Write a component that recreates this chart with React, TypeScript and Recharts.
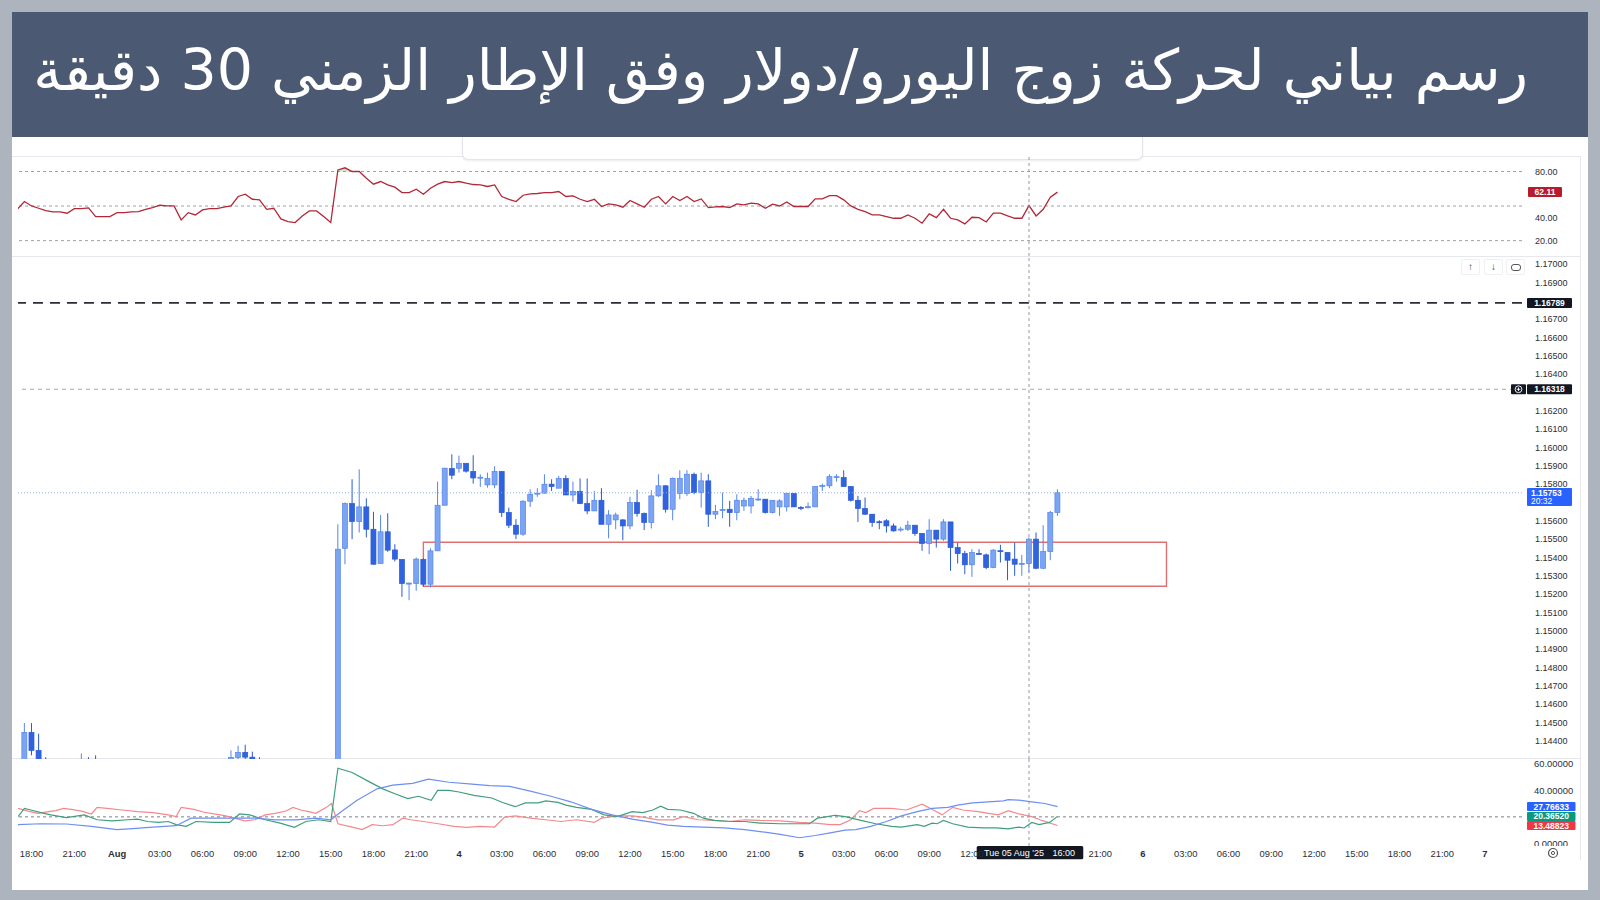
import React from 'react';
import { ComposedChart, Line, Bar, Area, XAxis, YAxis, ReferenceLine, ReferenceArea } from 'recharts';

const TITLE = 'رسم بياني لحركة زوج اليورو/دولار وفق الإطار الزمني 30 دقيقة';

// 30-minute candles, index 0 = Thu 31 Jul 17:30 (weekend bars skipped)
const openPrices = [
  1.1424, 1.14445, 1.14347, 1.1426, 1.1424, 1.1419, 1.1421, 1.1418, 1.1422, 1.1427,
  1.1425, 1.141, 1.1409, 1.141, 1.1417, 1.1417, 1.1419, 1.142, 1.1423, 1.1425,
  1.1428, 1.1427, 1.1427, 1.1408, 1.1417, 1.1413, 1.1419, 1.1421, 1.1421, 1.1423,
  1.14309, 1.14336, 1.1431, 1.1428, 1.1427, 1.1418, 1.1419, 1.1406, 1.1402, 1.14,
  1.1408, 1.1414, 1.1414, 1.1407, 1.1398, 1.1545, 1.15694, 1.15596, 1.15676, 1.15554,
  1.15367, 1.1554, 1.15441, 1.15389, 1.15258, 1.15258, 1.15389, 1.15254, 1.15436, 1.15685,
  1.15885, 1.15887, 1.15914, 1.15869, 1.15836, 1.15796, 1.15796, 1.15869, 1.15645, 1.15576,
  1.15527, 1.15707, 1.15749, 1.15751, 1.158, 1.15778, 1.15831, 1.15741, 1.1576, 1.15694,
  1.15654, 1.15712, 1.15581, 1.15605, 1.15605, 1.15572, 1.157, 1.1564, 1.15591, 1.15736,
  1.15791, 1.15663, 1.15749, 1.15749, 1.15854, 1.15754, 1.15818, 1.15636, 1.15658, 1.15663,
  1.15645, 1.15681, 1.15681, 1.15717, 1.15718, 1.15645, 1.15676, 1.15676, 1.15749, 1.15673,
  1.15675, 1.15676, 1.1579, 1.15791, 1.15839, 1.15836, 1.15787, 1.15712, 1.15667, 1.15636,
  1.15595, 1.156, 1.15572, 1.15553, 1.15554, 1.15576, 1.15531, 1.15476, 1.15549, 1.155,
  1.15594, 1.15454, 1.15421, 1.1536, 1.15422, 1.15414, 1.15345, 1.15437, 1.15427, 1.15391,
  1.15366, 1.15367, 1.155, 1.15341, 1.15432, 1.15645,
];
const highPrices = [
  1.14496, 1.14496, 1.14438, 1.1431, 1.1428, 1.1425, 1.1427, 1.1426, 1.1433, 1.1431,
  1.1432, 1.1414, 1.1413, 1.142, 1.142, 1.1421, 1.1422, 1.1425, 1.1427, 1.1429,
  1.1429, 1.1429, 1.1428, 1.1419, 1.1418, 1.1421, 1.1422, 1.1423, 1.1426, 1.14347,
  1.14372, 1.14378, 1.1434, 1.1431, 1.1428, 1.1421, 1.142, 1.1408, 1.1405, 1.141,
  1.1416, 1.1417, 1.1415, 1.1409, 1.15581, 1.157, 1.15827, 1.15881, 1.15723, 1.15649,
  1.15632, 1.15641, 1.15472, 1.15389, 1.15263, 1.154, 1.15395, 1.1545, 1.15814, 1.1589,
  1.15963, 1.15956, 1.15914, 1.15958, 1.15854, 1.15863, 1.15898, 1.15869, 1.15672, 1.15609,
  1.15712, 1.15772, 1.15778, 1.15854, 1.15827, 1.15845, 1.15849, 1.15814, 1.15831, 1.15831,
  1.15763, 1.15778, 1.15658, 1.15645, 1.15609, 1.15731, 1.15769, 1.15645, 1.15767, 1.15854,
  1.15794, 1.15836, 1.15876, 1.15876, 1.15863, 1.15863, 1.15854, 1.15687, 1.15754, 1.15709,
  1.15745, 1.15727, 1.15736, 1.15772, 1.15718, 1.15712, 1.15718, 1.15749, 1.15749, 1.15681,
  1.157, 1.15787, 1.15803, 1.15854, 1.15854, 1.15876, 1.15787, 1.15736, 1.15727, 1.15636,
  1.15603, 1.15609, 1.15585, 1.15567, 1.156, 1.15576, 1.15531, 1.15609, 1.15549, 1.15609,
  1.15594, 1.15481, 1.15436, 1.15445, 1.15445, 1.15421, 1.15445, 1.15469, 1.15427, 1.15481,
  1.15414, 1.15509, 1.15536, 1.15576, 1.15654, 1.15772,
];
const lowPrices = [
  1.1421, 1.1432, 1.1423, 1.142, 1.1416, 1.1414, 1.1413, 1.1415, 1.1419, 1.142,
  1.1407, 1.1404, 1.1405, 1.1408, 1.1413, 1.1414, 1.1416, 1.1418, 1.142, 1.1422,
  1.1423, 1.1423, 1.1405, 1.1406, 1.141, 1.1411, 1.1416, 1.1417, 1.1419, 1.1421,
  1.1427, 1.1429, 1.1426, 1.1424, 1.1416, 1.1415, 1.1403, 1.1399, 1.1396, 1.1398,
  1.1405, 1.141, 1.1404, 1.1394, 1.1396, 1.15363, 1.155, 1.15536, 1.15509, 1.1536,
  1.15367, 1.15431, 1.15378, 1.15185, 1.15167, 1.15218, 1.15241, 1.15236, 1.15436, 1.15685,
  1.15827, 1.15863, 1.15863, 1.15803, 1.15785, 1.15781, 1.15778, 1.15621, 1.1556, 1.155,
  1.15518, 1.15676, 1.15731, 1.15749, 1.15763, 1.15778, 1.15741, 1.15705, 1.15691, 1.15636,
  1.15654, 1.15581, 1.15505, 1.15554, 1.15494, 1.15554, 1.15623, 1.15549, 1.15558, 1.15731,
  1.15645, 1.15603, 1.15718, 1.15736, 1.15745, 1.15672, 1.15567, 1.15609, 1.15614, 1.15567,
  1.15603, 1.15654, 1.1564, 1.15709, 1.1564, 1.1564, 1.15627, 1.15651, 1.15676, 1.15658,
  1.15667, 1.15676, 1.15763, 1.15778, 1.15814, 1.15787, 1.15705, 1.15594, 1.15632, 1.15567,
  1.15554, 1.15536, 1.15541, 1.15541, 1.15545, 1.15518, 1.15436, 1.15418, 1.15454, 1.15491,
  1.15327, 1.15367, 1.15309, 1.15294, 1.15414, 1.15336, 1.15341, 1.15372, 1.15276, 1.153,
  1.153, 1.15318, 1.15336, 1.15336, 1.15385, 1.15627,
];
const closePrices = [
  1.14445, 1.14347, 1.1426, 1.1424, 1.1419, 1.1421, 1.1418, 1.1422, 1.1427, 1.1425,
  1.141, 1.1409, 1.141, 1.1417, 1.1417, 1.1419, 1.142, 1.1423, 1.1425, 1.1428,
  1.1427, 1.1427, 1.1408, 1.1417, 1.1413, 1.1419, 1.1421, 1.1421, 1.1423, 1.14309,
  1.14336, 1.1431, 1.1428, 1.1427, 1.1418, 1.1419, 1.1406, 1.1402, 1.14, 1.1408,
  1.1414, 1.1414, 1.1407, 1.1398, 1.15445, 1.15694, 1.15596, 1.15676, 1.15554, 1.15363,
  1.1554, 1.1544, 1.15391, 1.15258, 1.1526, 1.15391, 1.15254, 1.15436, 1.15685, 1.15887,
  1.15849, 1.15914, 1.15871, 1.15834, 1.15838, 1.15831, 1.15869, 1.15645, 1.15576, 1.15527,
  1.15707, 1.15745, 1.15751, 1.158, 1.15787, 1.15831, 1.15741, 1.1576, 1.15694, 1.15654,
  1.15712, 1.15581, 1.15632, 1.15632, 1.15572, 1.157, 1.1564, 1.15591, 1.15736, 1.15791,
  1.15663, 1.15832, 1.15832, 1.15854, 1.15754, 1.15818, 1.15636, 1.15651, 1.15662, 1.15645,
  1.15712, 1.15712, 1.15723, 1.15719, 1.15645, 1.15712, 1.15709, 1.15749, 1.15676, 1.15671,
  1.15677, 1.15787, 1.15792, 1.15841, 1.15841, 1.15787, 1.15712, 1.15667, 1.15636, 1.15591,
  1.15593, 1.15572, 1.15545, 1.15555, 1.15576, 1.15531, 1.15476, 1.15549, 1.155, 1.15594,
  1.15454, 1.15421, 1.1536, 1.15427, 1.1542, 1.15345, 1.1544, 1.15435, 1.15385, 1.15363,
  1.15368, 1.155, 1.15341, 1.15432, 1.15645, 1.15753,
];

// RSI, first value sits at index -1 (left edge of the pane)
const RSI_FIRST_INDEX = -1;
const rsiValues = [
  47.2, 53.9, 50.1, 48.1, 46.1, 44.9, 44.9, 43.8, 47.8, 47.8, 48.4,
  40.9, 40.9, 40.9, 44.3, 44.3, 44.9, 45.2, 47.2, 48.7, 50.7,
  50.1, 50.1, 38.0, 44.3, 42.3, 46.7, 47.8, 47.8, 49.0, 50.1,
  58.3, 60.3, 55.9, 55.4, 47.2, 48.1, 38.8, 36.5, 35.7, 41.4,
  45.8, 45.8, 41.0, 35.7, 81.4, 83.2, 80.0, 80.0, 74.2, 69.0,
  71.3, 68.4, 66.4, 61.7, 61.7, 64.6, 60.3, 65.5, 69.0, 71.3,
  70.4, 71.3, 69.9, 68.7, 68.4, 67.0, 68.4, 58.3, 55.9, 53.9,
  59.4, 60.6, 60.9, 61.7, 61.7, 62.6, 58.3, 58.8, 55.9, 53.9,
  55.9, 49.6, 51.9, 51.0, 49.0, 54.8, 51.9, 49.0, 55.9, 58.3,
  51.9, 58.3, 54.8, 58.3, 53.9, 56.2, 48.7, 49.3, 49.6, 48.7,
  51.9, 51.0, 52.5, 51.9, 48.1, 51.6, 50.1, 53.6, 49.6, 49.8,
  49.6, 56.2, 56.2, 59.1, 59.1, 55.4, 50.1, 47.2, 45.2, 42.3,
  42.3, 40.9, 39.4, 39.4, 42.3, 39.4, 35.1, 43.2, 40.0, 47.2,
  39.4, 38.0, 34.5, 40.3, 40.0, 36.2, 43.8, 43.8, 41.4, 39.4,
  39.4, 50.4, 41.4, 47.2, 57.7, 62.1,
];

// DMI readings as [candle index, value]
const adxPoints: [number, number][] = [
  [-0.9, 14.1], [2.3, 14.8], [5.9, 14.6], [9.4, 12.8], [13, 10.4], [15.2, 11.1], [18, 12.3], [21.3, 13.3],
  [23.4, 19.0], [26.6, 19.0], [29.5, 19.0], [32.4, 19.0], [35.2, 17.8], [38.1, 17.8], [40.9, 19.0], [43, 17.8],
  [44.5, 24.0], [46.7, 32.6], [49.5, 41.2], [51.7, 44.0], [54.5, 45.4], [56.7, 48.6], [59.6, 46.2], [62.4, 44.9],
  [65.3, 43.7], [68.1, 43.0], [71, 39.5], [73.9, 35.6], [76.7, 31.4], [79.6, 25.7], [82.5, 21.5], [85.3, 18.3],
  [88.2, 15.8], [90.3, 13.8], [92.5, 12.8], [95.3, 12.3], [98.2, 11.6], [101.1, 10.4], [103.9, 8.4], [106.1, 6.7],
  [108.8, 4.2], [111, 5.9], [113.1, 7.9], [115.2, 9.9], [116.7, 10.4], [118.8, 12.8], [121, 16.5], [123.1, 20.7],
  [125.3, 24.0], [127.4, 26.4], [129.6, 27.2], [131, 28.9], [133.1, 30.6], [135.3, 31.4], [137.4, 32.1], [138.1, 33.1],
  [139.6, 32.6], [141.4, 31.4], [143.2, 30.1], [145, 27.77],
];
const plusDiPoints: [number, number][] = [
  [-0.9, 20.2], [0, 26.4], [0.9, 25.2], [2.3, 23.2], [3.7, 21.5], [5.9, 19.5], [8.4, 21.5], [10.2, 17.8],
  [12.3, 17.0], [14.5, 17.8], [15.9, 18.3], [17.3, 16.5], [18.8, 15.8], [20.2, 16.5], [21.3, 14.1], [22.7, 12.8],
  [24.1, 16.5], [26.6, 15.8], [28.8, 15.8], [30.2, 22.2], [31.6, 21.5], [33.8, 17.8], [35.9, 15.3], [37.9, 12.1],
  [39.5, 16.5], [41.3, 17.8], [43, 16.5], [44, 56.8], [46, 53.6], [48.1, 47.4], [50.3, 41.2], [52, 37.5],
  [53.8, 33.8], [55.3, 35.6], [57.1, 32.6], [58, 40.0], [59.6, 40.0], [61, 38.8], [63.1, 36.3], [65.6, 34.3],
  [67.1, 30.9], [68.9, 27.7], [70.3, 30.6], [72.1, 30.6], [73.2, 32.1], [74.9, 30.9], [76, 28.9], [77.5, 27.2],
  [79.6, 25.7], [81.4, 21.5], [83.2, 20.2], [85.3, 24.0], [86.8, 23.2], [88.2, 25.2], [89.3, 28.1], [90.3, 25.7],
  [92.1, 25.2], [93.9, 22.7], [95.3, 19.0], [96.8, 17.3], [99.2, 16.5], [101.1, 16.5], [103.2, 15.3], [106.1, 14.8],
  [108.8, 14.8], [110.2, 14.8], [111.3, 19.0], [112.7, 20.2], [113.8, 21.2], [115.2, 20.2], [117.4, 17.3], [119.5, 14.8],
  [121.7, 12.8], [123.1, 12.3], [125.3, 14.1], [126.3, 12.8], [127.4, 15.3], [128.1, 14.8], [129, 17.3], [130.3, 14.8],
  [132.4, 12.3], [134.6, 11.6], [136.4, 11.6], [138.1, 10.9], [139.6, 12.3], [140.3, 11.6], [141.4, 15.8], [142.4, 14.1],
  [143.9, 15.8], [145, 20.37],
];
const minusDiPoints: [number, number][] = [
  [-0.9, 26.4], [0.5, 24.4], [1.9, 22.7], [3.4, 24.0], [4.4, 24.7], [5.5, 26.4], [6.6, 25.7], [8, 24.4],
  [9.4, 22.2], [10.2, 27.2], [11.6, 26.4], [13.7, 25.2], [15.9, 24.0], [18, 23.2], [20.2, 21.5], [21.3, 20.2],
  [22, 27.2], [23.8, 25.7], [25.2, 23.5], [26.6, 22.2], [28.1, 21.0], [29.5, 19.0], [30.9, 17.0], [32.4, 17.8],
  [33.8, 21.5], [35.2, 22.7], [36.7, 24.4], [37.7, 27.2], [38.8, 25.2], [39.9, 24.0], [40.9, 22.7], [42.4, 27.2],
  [43.1, 30.1], [44, 14.8], [46, 12.3], [47.4, 10.4], [48.8, 14.1], [50.3, 13.3], [51.7, 14.1], [53.1, 19.0],
  [54.2, 17.8], [56, 16.5], [58.1, 14.8], [60.3, 12.8], [62.1, 12.1], [63.9, 12.8], [66, 12.3], [67.4, 19.8],
  [68.9, 20.7], [71, 19.0], [73.2, 17.8], [75.3, 16.5], [77.5, 17.8], [80, 15.8], [81, 19.0], [83.2, 20.7],
  [85.3, 20.7], [86.8, 19.8], [88.9, 17.8], [91.1, 17.8], [92.5, 20.2], [94.6, 17.8], [96.8, 17.3], [98.9, 16.5],
  [101.1, 17.8], [103.2, 17.3], [106.1, 17.0], [108.8, 15.8], [111, 15.3], [113.1, 14.1], [114.5, 14.1], [116, 17.8],
  [117.2, 24.7], [118.1, 23.2], [119.2, 26.4], [121.7, 26.4], [123.8, 25.2], [126, 29.6], [127.4, 25.7], [128.8, 21.5],
  [130.3, 27.2], [131.7, 25.2], [133.9, 24.0], [135.3, 22.7], [136.7, 21.5], [138.1, 24.7], [139.6, 22.2], [141.4, 20.2],
  [142.8, 17.3], [145, 13.49],
];

const priceTicks = [
  1.17, 1.169, 1.167, 1.166, 1.165, 1.164, 1.162, 1.161, 1.16, 1.159, 1.158, 1.156,
  1.155, 1.154, 1.153, 1.152, 1.151, 1.15, 1.149, 1.148, 1.147, 1.146, 1.145, 1.144,
];
const rsiTicks = [80, 40, 20];
const rsiLevels = [80, 50, 20];
const dmiTicks = [60, 40, 0];
const dmiLevel = 20;
const timeTickIndex = [
  1, 7, 13, 19, 25, 31, 37, 43, 49, 55, 61, 67, 73, 79, 85, 91, 97, 103, 109, 115, 121, 127, 133,
  151, 157, 163, 169, 175, 181, 187, 193, 199, 205,
];
const timeTickLabels = [
  '18:00', '21:00', 'Aug', '03:00', '06:00', '09:00', '12:00', '15:00', '18:00', '21:00', '4', '03:00',
  '06:00', '09:00', '12:00', '15:00', '18:00', '21:00', '5', '03:00', '06:00', '09:00', '12:00',
  '21:00', '6', '03:00', '06:00', '09:00', '12:00', '15:00', '18:00', '21:00', '7',
];
const boldTimeLabels = ['Aug', '4', '5', '6', '7'];

const lastPrice = 1.15753;
const lastPriceCountdown = '20:32';
const alertPrice = 1.16318;
const dashedPrice = 1.16789;
const zoneLow = 1.15243;
const zoneHigh = 1.15483;
const zoneStartIndex = 56;
const zoneEndIndex = 160.3;
const crosshairIndex = 141;
const crosshairDate = "Tue 05 Aug '25";
const crosshairTime = '16:00';
const lastRsi = '62.11';
const lastAdx = '27.76633';
const lastPlusDi = '20.36520';
const lastMinusDi = '13.48823';

// ---------- derived rows ----------
const candleRows = openPrices.map((o, k) => ({
  i: k,
  o,
  h: highPrices[k],
  l: lowPrices[k],
  c: closePrices[k],
  range: [lowPrices[k], highPrices[k]],
}));
const rsiRows = rsiValues.map((v, k) => ({
  i: k + RSI_FIRST_INDEX,
  rsi: v,
  ob: v >= 80 ? [80, v] : undefined,
}));
const dmiMap = new Map<number, any>();
const addPts = (pts: [number, number][], key: string) =>
  pts.forEach(([i, v]) => {
    const r = dmiMap.get(i) || { i };
    r[key] = v;
    dmiMap.set(i, r);
  });
addPts(adxPoints, 'adx');
addPts(plusDiPoints, 'plus');
addPts(minusDiPoints, 'minus');
const dmiRows = Array.from(dmiMap.values()).sort((a, b) => a.i - b.i);

// ---------- styling ----------
const AXIS_FONT = '"Liberation Sans", Arial, sans-serif';
const AXIS_COLOR = '#2a2e39';
const X_DOMAIN: [number, number] = [-0.9, 210.2];
const MARGIN = { top: 0, right: 0, bottom: 0, left: 18 };
const UP_FILL = '#7ba4f2';
const UP_STROKE = '#5585ec';
const DN_FILL = '#2f63e0';
const DN_STROKE = '#2b59cf';

const Candle = (props: any) => {
  const { x, y, width, height, payload } = props;
  if (!payload || height == null) return null;
  const { o, h, l, c } = payload;
  if (h === l) return null;
  const k = height / (h - l);
  const yOf = (p: number) => y + (h - p) * k;
  const cx = x + width / 2;
  const up = c >= o;
  const top = yOf(Math.max(o, c));
  const bot = yOf(Math.min(o, c));
  const bh = Math.max(1, bot - top);
  return (
    <g>
      <line x1={cx} x2={cx} y1={y} y2={y + height} stroke={up ? UP_STROKE : DN_STROKE} strokeWidth={1} />
      <rect x={cx - 2.5} y={top} width={5} height={bh} fill={up ? UP_FILL : DN_FILL} stroke={up ? UP_STROKE : DN_STROKE} strokeWidth={0.7} />
    </g>
  );
};

const makeYTick = (digits: number, size = 9) => (props: any) => {
  const { x, y, payload } = props;
  return (
    <text x={x} y={y} dy="0.35em" textAnchor="start" fontSize={size} fontFamily={AXIS_FONT} fill={AXIS_COLOR}>
      {Number(payload.value).toFixed(digits)}
    </text>
  );
};
const PriceTick = makeYTick(5, 9);
const RsiTick = makeYTick(2, 9);
const DmiTick = (props: any) => {
  const { x, y, payload } = props;
  const t = (
    <text x={payload.value === 0 ? 0 : x} y={payload.value === 0 ? 8 : y} dy="0.35em" textAnchor="start" fontSize={9.4} fontFamily={AXIS_FONT} fill={AXIS_COLOR}>
      {Number(payload.value).toFixed(5)}
    </text>
  );
  if (payload.value === 0) {
    return (
      <svg x={x} y={y - 8} width={60} height={10.7} overflow="hidden">
        {t}
      </svg>
    );
  }
  return t;
};

const TimeTick = (props: any) => {
  const { x, y, payload } = props;
  const k = timeTickIndex.indexOf(payload.value);
  const label = k >= 0 ? timeTickLabels[k] : '';
  const bold = boldTimeLabels.includes(label);
  return (
    <text x={x} y={y + 10.5} textAnchor="middle" fontSize={9.4} fontFamily={AXIS_FONT} fontWeight={bold ? 700 : 400} fill={AXIS_COLOR}>
      {label}
    </text>
  );
};

const Tag = (props: any) => {
  const { viewBox, text, bg, w = 45, h = 10, dx = 5, fs = 8.5 } = props;
  if (!viewBox) return null;
  const x = viewBox.x + viewBox.width + dx;
  const y = viewBox.y;
  return (
    <g>
      <rect x={x} y={y - h / 2} width={w} height={h} fill={bg} rx={1} />
      <text x={x + w / 2} y={y} dy="0.36em" textAnchor="middle" fontSize={fs} fontWeight={700} fill="#ffffff" fontFamily={AXIS_FONT}>
        {text}
      </text>
    </g>
  );
};

const AlertTag = (props: any) => {
  const { viewBox } = props;
  if (!viewBox) return null;
  const x = viewBox.x + viewBox.width + 5;
  const y = viewBox.y;
  return (
    <g>
      <rect x={x - 16} y={y - 5} width={15} height={10} fill="#131722" rx={1} />
      <circle cx={x - 8.5} cy={y} r={3.4} fill="none" stroke="#ffffff" strokeWidth={0.9} />
      <line x1={x - 10.3} x2={x - 6.7} y1={y} y2={y} stroke="#ffffff" strokeWidth={0.9} />
      <line x1={x - 8.5} x2={x - 8.5} y1={y - 1.8} y2={y + 1.8} stroke="#ffffff" strokeWidth={0.9} />
      <rect x={x} y={y - 5} width={45} height={10} fill="#131722" rx={1} />
      <text x={x + 22.5} y={y} dy="0.36em" textAnchor="middle" fontSize={8.5} fontWeight={700} fill="#ffffff" fontFamily={AXIS_FONT}>
        {alertPrice.toFixed(5)}
      </text>
    </g>
  );
};

const LastPriceTag = (props: any) => {
  const { viewBox } = props;
  if (!viewBox) return null;
  const x = viewBox.x + viewBox.width + 5;
  const y = viewBox.y;
  return (
    <g>
      <rect x={x} y={y - 4.7} width={45} height={18} fill="#2962ff" rx={1} />
      <text x={x + 4} y={y} dy="0.36em" textAnchor="start" fontSize={8.5} fontWeight={700} fill="#ffffff" fontFamily={AXIS_FONT}>
        {lastPrice.toFixed(5)}
      </text>
      <text x={x + 4} y={y + 8.5} dy="0.36em" textAnchor="start" fontSize={8.5} fill="#ffffff" fontFamily={AXIS_FONT}>
        {lastPriceCountdown}
      </text>
    </g>
  );
};

const CrosshairTag = (props: any) => {
  const { viewBox } = props;
  if (!viewBox) return null;
  const cx = viewBox.x;
  const top = viewBox.y + viewBox.height;
  return (
    <g>
      <rect x={cx - 52.3} y={top} width={106.6} height={13.3} fill="#131722" rx={1.5} />
      <text x={cx - 45} y={top + 7} dy="0.35em" fontSize={9} fill="#ffffff" fontFamily={AXIS_FONT}>
        {crosshairDate}
      </text>
      <text x={cx + 23.5} y={top + 7} dy="0.35em" fontSize={9} fill="#ffffff" fontFamily={AXIS_FONT}>
        {crosshairTime}
      </text>
    </g>
  );
};

const hLine = (top: number): React.CSSProperties => ({
  position: 'absolute', left: 12, top, width: 1568, height: 1, background: '#e6e8ee',
});

const btn: React.CSSProperties = {
  position: 'absolute', top: 259, width: 17, height: 14, border: '1px solid #eef0f3', borderRadius: 2,
  background: '#ffffff', fontSize: 10, lineHeight: '14px', textAlign: 'center', color: '#444', fontFamily: AXIS_FONT,
};

export default function App() {
  return (
    <div style={{ position: 'absolute', left: 0, top: 0, width: 1600, height: 900, background: '#adb4be', overflow: 'hidden' }}>
      <div style={{ position: 'absolute', left: 12, top: 12, width: 1576, height: 125, background: '#4b5a72' }} />
      <div
        style={{
          position: 'absolute', left: 12, top: 12, width: 1516, height: 116, display: 'flex', alignItems: 'center',
          justifyContent: 'flex-end', color: '#ffffff', fontFamily: '"DejaVu Sans", sans-serif', fontSize: 57, whiteSpace: 'nowrap',
        }}
      >
        <span dir="rtl">{TITLE}</span>
      </div>
      <div style={{ position: 'absolute', left: 12, top: 137, width: 1576, height: 753, background: '#ffffff' }} />

      {/* pane separators and right border */}
      <div style={hLine(156)} />
      <div style={hLine(256)} />
      <div style={hLine(758)} />
      <div style={{ position: 'absolute', left: 1580, top: 156, width: 1, height: 704, background: '#e6e8ee' }} />
      <div
        style={{
          position: 'absolute', left: 462, top: 137, width: 679, height: 22, background: '#ffffff',
          border: '1px solid #e3e5ea', borderTop: 'none', borderRadius: '0 0 6px 6px', boxShadow: '0 1px 2px rgba(0,0,0,0.08)',
        }}
      />

      {/* RSI pane */}
      <div style={{ position: 'absolute', left: 0, top: 157 }}>
        <ComposedChart width={1600} height={99} data={rsiRows} margin={MARGIN}>
          <XAxis type="number" dataKey="i" domain={X_DOMAIN} allowDataOverflow hide />
          <YAxis
            orientation="right" width={78} type="number" domain={[6.65, 92.59]} allowDataOverflow ticks={rsiTicks}
            interval={0} tick={<RsiTick />} tickLine={false} axisLine={false} tickSize={0} tickMargin={13}
          />
          {rsiLevels.map((lv) => (
            <ReferenceLine key={lv} y={lv} stroke="#9ea1a9" strokeDasharray="3 3" strokeWidth={1} />
          ))}
          <Area dataKey="ob" stroke="none" fill="#b7e2c3" fillOpacity={0.75} isAnimationActive={false} connectNulls={false} />
          <Line dataKey="rsi" stroke="#b22838" strokeWidth={1.3} dot={false} isAnimationActive={false} />
          <ReferenceLine x={crosshairIndex} stroke="#9598a1" strokeDasharray="3 3" />
          <ReferenceLine y={62.11} stroke="none" label={<Tag text={lastRsi} bg="#b71c2c" w={34} h={10} dx={6} />} />
        </ComposedChart>
      </div>

      {/* Price pane */}
      <div style={{ position: 'absolute', left: 0, top: 256 }}>
        <ComposedChart width={1600} height={503} data={candleRows} margin={MARGIN}>
          <XAxis type="number" dataKey="i" domain={X_DOMAIN} allowDataOverflow hide />
          <YAxis
            orientation="right" width={78} type="number" domain={[1.143, 1.170453]} allowDataOverflow ticks={priceTicks}
            interval={0} tick={<PriceTick />} tickLine={false} axisLine={false} tickSize={0} tickMargin={13}
          />
          <ReferenceArea
            x1={zoneStartIndex} x2={zoneEndIndex} y1={zoneLow} y2={zoneHigh}
            fill="#ffffff" fillOpacity={0} stroke="#e07070" strokeWidth={1.4}
          />
          <ReferenceLine y={dashedPrice} stroke="#2a2e39" strokeDasharray="10 7" strokeWidth={1.7} label={<Tag text={dashedPrice.toFixed(5)} bg="#131722" />} />
          <ReferenceLine y={alertPrice} stroke="#a3a6ae" strokeDasharray="4 4" strokeWidth={1} label={<AlertTag />} />
          <ReferenceLine y={lastPrice} stroke="#8fb0f7" strokeDasharray="1 2" strokeWidth={1} label={<LastPriceTag />} />
          <ReferenceLine x={crosshairIndex} stroke="#9598a1" strokeDasharray="3 3" />
          <Bar dataKey="range" barSize={5} shape={(p: any) => <Candle {...p} />} isAnimationActive={false} />
        </ComposedChart>
      </div>

      {/* DMI pane + time axis */}
      <div style={{ position: 'absolute', left: 0, top: 759 }}>
        <ComposedChart width={1600} height={111} data={dmiRows} margin={MARGIN}>
          <XAxis
            type="number" dataKey="i" domain={X_DOMAIN} allowDataOverflow ticks={timeTickIndex} interval={0}
            tick={<TimeTick />} tickLine={false} axisLine={false} tickSize={0} tickMargin={0} height={24}
          />
          <YAxis
            orientation="right" width={78} type="number" domain={[-2.04, 63.78]} allowDataOverflow ticks={dmiTicks}
            interval={0} tick={<DmiTick />} tickLine={false} axisLine={false} tickSize={0} tickMargin={12}
          />
          <ReferenceLine y={dmiLevel} stroke="#7d8089" strokeDasharray="3 3" strokeWidth={1} />
          <Line dataKey="minus" stroke="#f4898d" strokeWidth={1.2} dot={false} connectNulls isAnimationActive={false} />
          <Line dataKey="plus" stroke="#3f9f7c" strokeWidth={1.2} dot={false} connectNulls isAnimationActive={false} />
          <Line dataKey="adx" stroke="#6f8ff0" strokeWidth={1.2} dot={false} connectNulls isAnimationActive={false} />
          <ReferenceLine y={27.766} stroke="none" label={<Tag text={lastAdx} bg="#2962ff" w={48.5} h={9} dx={5} />} />
          <ReferenceLine y={20.365} stroke="none" label={<Tag text={lastPlusDi} bg="#089981" w={48.5} h={9} dx={5} />} />
          <ReferenceLine y={13.488} stroke="none" label={<Tag text={lastMinusDi} bg="#f23645" w={48.5} h={9} dx={5} />} />
          <ReferenceLine x={crosshairIndex} stroke="#9598a1" strokeDasharray="3 3" label={<CrosshairTag />} />
        </ComposedChart>
      </div>

      {/* price-scale buttons */}
      <div style={{ ...btn, left: 1461 }}>↑</div>
      <div style={{ ...btn, left: 1484 }}>↓</div>
      <div style={{ ...btn, left: 1506 }}>
        <div style={{ width: 8, height: 5, border: '1.3px solid #555', borderRadius: 3, margin: '3.5px auto' }} />
      </div>
      {/* settings icon */}
      <svg style={{ position: 'absolute', left: 1547, top: 847 }} width={12} height={12}>
        <circle cx={6} cy={6} r={4.5} fill="none" stroke="#555" strokeWidth={1.2} />
        <circle cx={6} cy={6} r={1.6} fill="none" stroke="#555" strokeWidth={1} />
      </svg>
    </div>
  );
}
